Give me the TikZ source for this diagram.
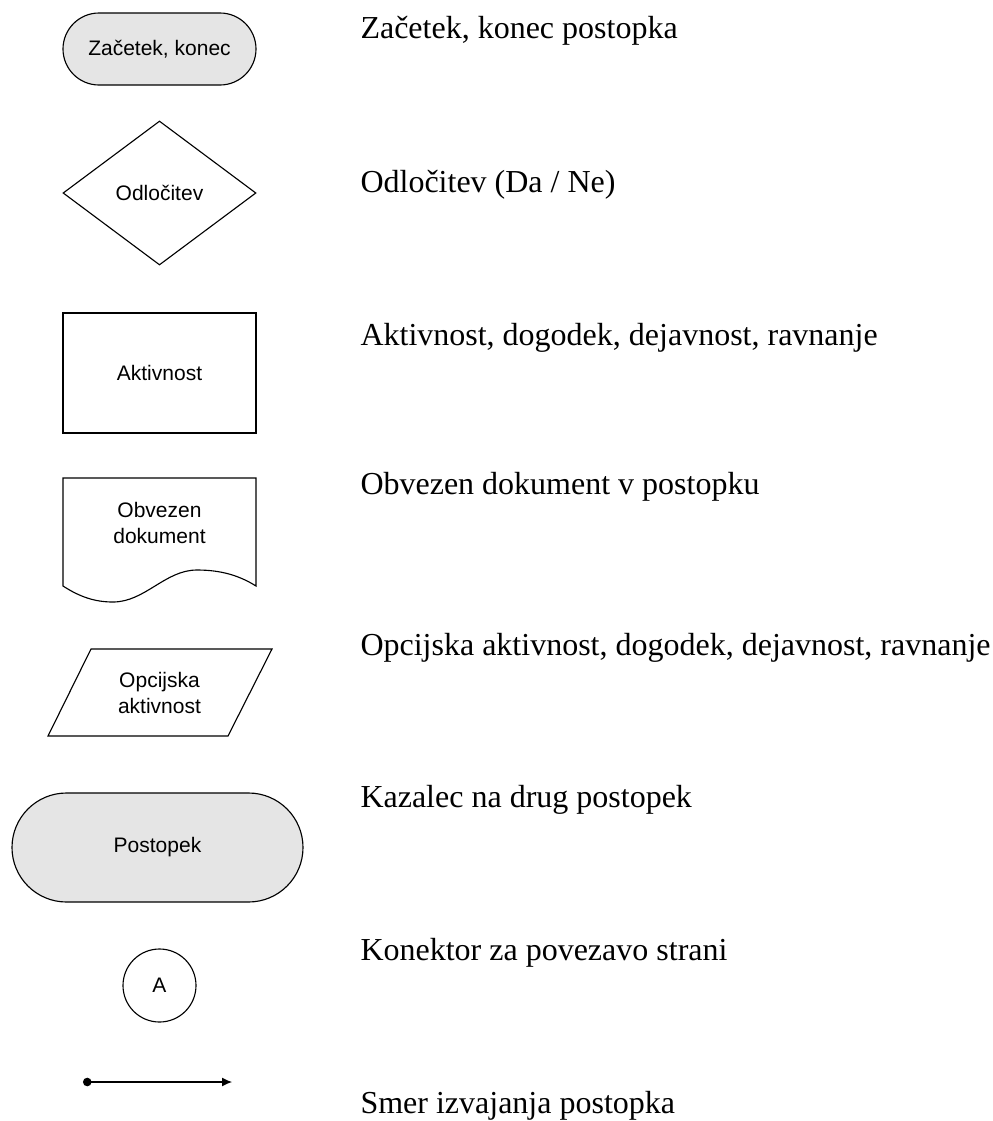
\documentclass[tikz,border=0pt]{standalone}
\usepackage{fontspec}
\setmainfont{Liberation Serif}
\newfontfamily\symfont{Liberation Sans}
\usetikzlibrary{arrows.meta,shapes.geometric}

\tikzset{
  symbol/.style={draw,line width=0.45pt,inner sep=0pt,align=center,
    font=\symfont\fontsize{8.4}{10.4}\selectfont},
  terminal/.style={symbol,fill=black!10,rounded corners=14.4pt,
    minimum width=77.2pt,minimum height=28.8pt},
  decision/.style={symbol,diamond,aspect=1.34,
    minimum width=77.2pt,minimum height=57.6pt},
  activity/.style={symbol,minimum width=77.2pt,minimum height=48pt},
  process/.style={symbol,fill=black!10,rounded corners=21.8pt,
    minimum width=116.4pt,minimum height=43.6pt},
  connector/.style={symbol,circle,minimum size=29.2pt},
  legend/.style={anchor=base west,inner sep=0pt,
    font=\fontsize{12.8}{15}\selectfont},
}

\begin{document}
\begin{tikzpicture}[x=0.4pt,y=-0.4pt]
  \useasboundingbox (0,0) rectangle (993,1121);

  % symbols
  \node[terminal] (start) at (159.5,49) {Začetek, konec};
  \node[decision] (odl) at (159.5,193) {Odločitev};
  \node[activity] (akt) at (159.5,373) {Aktivnost};
  \node[symbol,draw=none] (dok) at (159.5,523) {Obvezen\\dokument};
  \node[symbol,draw=none] (opc) at (159.5,693) {Opcijska\\aktivnost};
  \node[process] (post) at (157.5,847.5) {Postopek};
  \node[connector] (kon) at (159.5,985.5) {A};
  \coordinate (smer0) at (83,1082);
  \coordinate (smer1) at (232,1082);

  % document and optional activity outlines
  \draw[line width=0.45pt] (63,478) -- (63,586)
    .. controls (80,597) and (95,602) .. (113,602)
    .. controls (145,602) and (165,570) .. (197,570)
    .. controls (222,570) and (240,576) .. (256,586)
    -- (256,478) -- cycle;
  \draw[line width=0.45pt] (91,649) -- (272,649) -- (228,736) -- (48,736) -- cycle;

  \draw[line width=0.45pt,{Circle[length=3.4pt]}-{Latex[length=4pt,width=3.6pt]}]
    (smer0) -- (smer1);

  % legend
  \node[legend] (l1) at (360,38) {Začetek, konec postopka};
  \node[legend] (l2) at (360,192) {Odločitev (Da / Ne)};
  \node[legend] (l3) at (360,345) {Aktivnost, dogodek, dejavnost, ravnanje};
  \node[legend] (l4) at (360,494) {Obvezen dokument v postopku};
  \node[legend] (l5) at (360,655) {Opcijska aktivnost, dogodek, dejavnost, ravnanje};
  \node[legend] (l6) at (360,807) {Kazalec na drug postopek};
  \node[legend] (l7) at (360,960) {Konektor za povezavo strani};
  \node[legend] (l8) at (360,1113) {Smer izvajanja postopka};

\end{tikzpicture}
\end{document}
